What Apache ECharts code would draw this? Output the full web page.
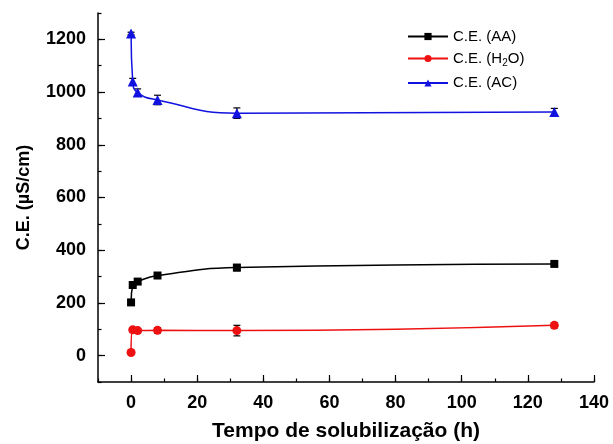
<!DOCTYPE html>
<html>
<head>
<meta charset="utf-8">
<script src="https://cdn.jsdelivr.net/npm/echarts@6/dist/echarts.min.js"></script>
<style>
  html, body { margin: 0; padding: 0; background: #fff; }
  #chart { width: 613px; height: 444px; }
</style>
</head>
<body>
<div id="chart"></div>
<script>
// Solubilization time (h)
const hours = [0, 0.5, 2, 8, 32, 128];

// Electrical conductivity (µS/cm) and standard deviations
const ceAA   = [202, 268, 281, 304, 334, 348];
const errAA  = [5, 6, 8, 10, 12, 8];
const ceH2O  = [12, 98, 95, 96, 95, 115];
const errH2O = [3, 8, 8, 10, 20, 10];
const ceAC   = [1222, 1040, 998, 970, 920, 924];
const errAC  = [5, 12, 14, 18, 20, 14];

const seriesNames = ['C.E. (AA)', 'C.E. (H2O)', 'C.E. (AC)'];

// Axis ranges and labelled tick steps
const xRange = [-10, 140], xLabelRange = [0, 140], xStep = 20, xMinorStep = 10;
const yRange = [-100, 1300], yLabelRange = [0, 1200], yStep = 200, yMinorStep = 100;

const FONT = '"Liberation Sans", Arial, sans-serif';
const COLORS = ['#000000', '#ee1111', '#1212e0'];

const chart = echarts.init(document.getElementById('chart'));
const W = chart.getWidth(), H = chart.getHeight();

// Main plotting area
const G = { left: 98, right: 19, top: 13, bottom: 62 };
const sx = (W - G.left - G.right) / (xRange[1] - xRange[0]);
const sy = (H - G.top - G.bottom) / (yRange[1] - yRange[0]);
// Overlay area spanning only the labelled range, carrying the long ticks and labels
const G2 = {
  left: G.left + (xLabelRange[0] - xRange[0]) * sx,
  right: G.right + (xRange[1] - xLabelRange[1]) * sx,
  top: G.top + (yRange[1] - yLabelRange[1]) * sy,
  bottom: G.bottom + (yLabelRange[0] - yRange[0]) * sy
};

function pairs(xs, ys) { return xs.map((x, i) => [x, ys[i]]); }
function triples(xs, ys, es) { return xs.map((x, i) => [x, ys[i], es[i]]); }

function errorBar(params, api) {
  const x = api.value(0), y = api.value(1), e = api.value(2);
  const top = api.coord([x, y + e]);
  const bot = api.coord([x, y - e]);
  const hw = 3.5;
  const st = { stroke: '#000', lineWidth: 1.2 };
  return {
    type: 'group',
    children: [
      { type: 'line', shape: { x1: top[0], y1: top[1], x2: bot[0], y2: bot[1] }, style: st },
      { type: 'line', shape: { x1: top[0] - hw, y1: top[1], x2: top[0] + hw, y2: top[1] }, style: st },
      { type: 'line', shape: { x1: bot[0] - hw, y1: bot[1], x2: bot[0] + hw, y2: bot[1] }, style: st }
    ]
  };
}

const lineSeries = (name, ys, color, symbol, size) => ({
  name: name,
  type: 'line',
  xAxisIndex: 0, yAxisIndex: 0,
  data: pairs(hours, ys),
  smooth: 0.5,
  symbol: symbol,
  symbolSize: size,
  lineStyle: { color: color, width: 1.5 },
  itemStyle: { color: color },
  z: 3
});

const errSeries = (ys, es) => ({
  type: 'custom',
  xAxisIndex: 0, yAxisIndex: 0,
  data: triples(hours, ys, es),
  renderItem: errorBar,
  encode: { x: 0, y: 1 },
  silent: true,
  z: 2
});

const labelFont = {
  fontFamily: FONT, fontWeight: 'bold', fontSize: 18, color: '#000',
  formatter: v => String(v)
};

chart.setOption({
  animation: false,
  backgroundColor: '#fff',
  grid: [
    { left: G.left, right: G.right, top: G.top, bottom: G.bottom, containLabel: false, outerBoundsMode: 'none' },
    { left: G2.left, right: G2.right, top: G2.top, bottom: G2.bottom, containLabel: false, outerBoundsMode: 'none' }
  ],
  legend: {
    orient: 'vertical',
    left: 402,
    top: 24,
    itemWidth: 40,
    itemHeight: 9,
    itemGap: 7,
    data: seriesNames,
    textStyle: {
      fontFamily: FONT, fontSize: 15, color: '#000',
      rich: { sub: { fontFamily: FONT, fontSize: 10, color: '#000', padding: [10, 0, 0, 0] } }
    },
    formatter: function (n) {
      return n === 'C.E. (H2O)' ? 'C.E. (H{sub|2}O)' : n;
    }
  },
  xAxis: [
    {
      gridIndex: 0, type: 'value', min: xRange[0], max: xRange[1], interval: xMinorStep,
      name: 'Tempo de solubilização (h)', nameLocation: 'middle', nameGap: 39,
      nameTextStyle: { fontFamily: FONT, fontWeight: 'bold', fontSize: 21, color: '#000' },
      axisLine: { onZero: false, lineStyle: { color: '#000', width: 1.5 } },
      axisTick: { inside: true, length: 3.5, lineStyle: { color: '#000', width: 1.2 } },
      axisLabel: { show: false },
      splitLine: { show: false }
    },
    {
      gridIndex: 1, type: 'value', min: xLabelRange[0], max: xLabelRange[1], interval: xStep,
      offset: G2.bottom - G.bottom,
      axisLine: { show: false, onZero: false },
      axisTick: { inside: true, length: 7, lineStyle: { color: '#000', width: 1.2 } },
      axisLabel: Object.assign({ margin: 12 }, labelFont),
      splitLine: { show: false }
    }
  ],
  yAxis: [
    {
      gridIndex: 0, type: 'value', min: yRange[0], max: yRange[1], interval: yMinorStep,
      name: 'C.E. (\u00b5S/cm)', nameLocation: 'middle', nameGap: 65,
      nameTextStyle: { fontFamily: FONT, fontWeight: 'bold', fontSize: 18, color: '#000' },
      axisLine: { onZero: false, lineStyle: { color: '#000', width: 1.5 } },
      axisTick: { inside: true, length: 3.5, lineStyle: { color: '#000', width: 1.2 } },
      axisLabel: { show: false },
      splitLine: { show: false }
    },
    {
      gridIndex: 1, type: 'value', min: yLabelRange[0], max: yLabelRange[1], interval: yStep,
      offset: G2.left - G.left,
      axisLine: { show: false, onZero: false },
      axisTick: { inside: true, length: 7, lineStyle: { color: '#000', width: 1.2 } },
      axisLabel: Object.assign({ margin: 12 }, labelFont),
      splitLine: { show: false }
    }
  ],
  series: [
    errSeries(ceAA, errAA),
    errSeries(ceH2O, errH2O),
    errSeries(ceAC, errAC),
    lineSeries(seriesNames[0], ceAA, COLORS[0], 'rect', 8),
    lineSeries(seriesNames[1], ceH2O, COLORS[1], 'circle', 9),
    lineSeries(seriesNames[2], ceAC, COLORS[2], 'triangle', 10)
  ]
});
</script>
</body>
</html>
